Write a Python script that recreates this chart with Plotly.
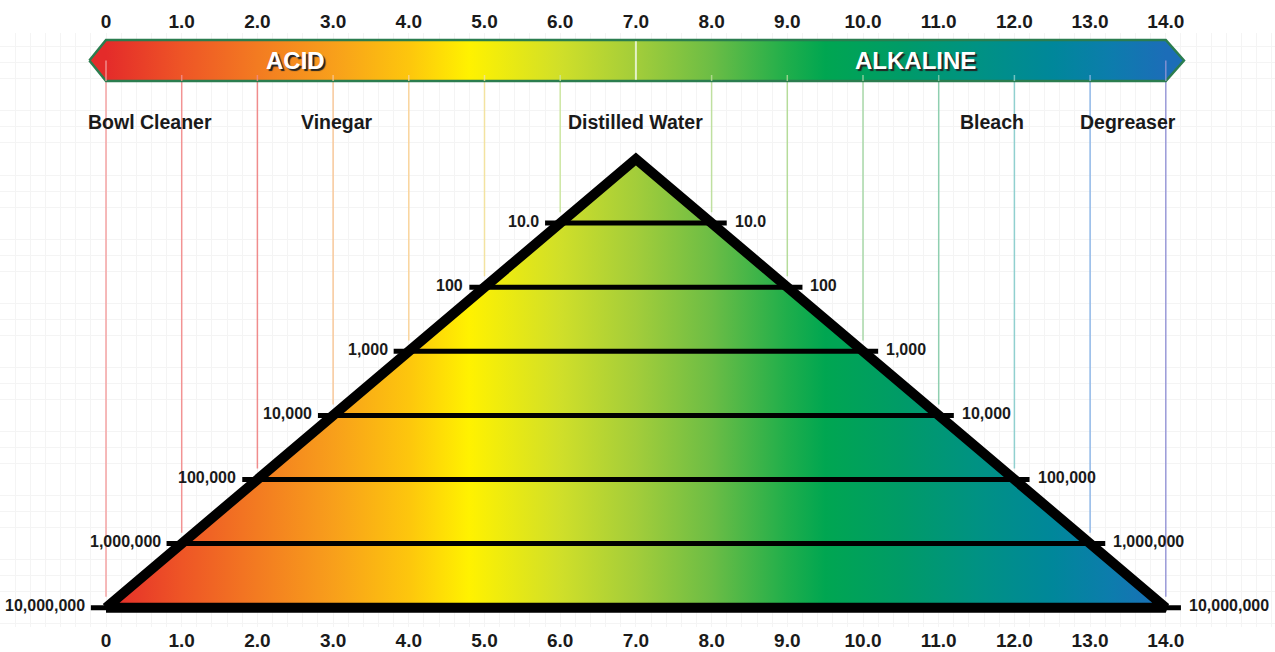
import plotly.graph_objects as go

# ---------------- data ----------------
ph_ticks = list(range(15))
ph_tick_labels = ["0", "1.0", "2.0", "3.0", "4.0", "5.0", "6.0", "7.0",
                  "8.0", "9.0", "10.0", "11.0", "12.0", "13.0", "14.0"]
levels = [1, 2, 3, 4, 5, 6, 7]                      # powers of ten away from neutral
level_labels = ["10.0", "100", "1,000", "10,000", "100,000", "1,000,000", "10,000,000"]
neutral_ph = 7.0
products = ["Bowl Cleaner", "Vinegar", "Distilled Water", "Bleach", "Degreaser"]
product_ph = [0.58, 3.05, 7.0, 11.7, 13.5]
zones = ["ACID", "ALKALINE"]
zone_ph = [2.5, 10.69]

# colour along the pH scale
grad_ph = [0, 1, 2, 3, 4, 4.8, 6, 7, 8, 9, 9.5, 10.5, 11.5, 12.5, 13.3, 14]
grad_col = ["#e42b2a", "#ee5526", "#f37b21", "#f89f1b", "#fdc60d", "#fff200",
            "#d0df29", "#a3cd3a", "#6cbd45", "#1fae4b", "#00a651", "#009b67",
            "#009283", "#00879a", "#0d7cad", "#1c6db8"]
guide_ph = [0, 1, 2, 3, 4, 5, 6, 8, 9, 10, 11, 12, 13, 14]
guide_col = ["#f5a3a3", "#f29393", "#f08c8c", "#f8c89a", "#f9d49c", "#f3e3a0",
             "#cde6a3", "#bfe0a0", "#b5dc9a", "#a8d8a8", "#8fcfb0", "#90d0cf",
             "#8fb8e8", "#9a9ad8"]

# ---------------- layout geometry ----------------
W, H = 1275, 652
PX0, PXU = 106.0, 75.7          # pixel of pH 0, pixels per pH
PY0, PYU = 159.0, 64.1          # pixel of apex level 0, pixels per level
M_T, M_B = 33, 25
x_range = [(0 - PX0) / PXU, (W - PX0) / PXU]
y_range = [(H - M_B - PY0) / PYU, (M_T - PY0) / PYU]

ban_top, ban_bot = (40 - PY0) / PYU, (81 - PY0) / PYU
ban_mid = (ban_top + ban_bot) / 2
label_y = (122 - PY0) / PYU
tick_ext = 0.2

cscale = [[(p - grad_ph[0]) / (grad_ph[-1] - grad_ph[0]), c] for p, c in zip(grad_ph, grad_col)]

fig = go.Figure()

# guide lines
for p, c in zip(guide_ph, guide_col):
    start = (76 - PY0) / PYU
    end = abs(neutral_ph - p) - 0.17
    fig.add_trace(go.Scatter(x=[p, p], y=[start, end], mode="lines",
                             line=dict(color=c, width=1.5), hoverinfo="skip",
                             showlegend=False))

# banner
bx = [-0.22, 0, 14, 14.24, 14, 0, -0.22]
by = [ban_mid, ban_top, ban_top, ban_mid, ban_bot, ban_bot, ban_mid]
fig.add_trace(go.Scatter(x=bx, y=by, mode="lines", fill="toself",
                         fillgradient=dict(type="horizontal", colorscale=cscale,
                                           start=grad_ph[0], stop=grad_ph[-1]),
                         line=dict(color="#2b7d4f", width=2.5), hoverinfo="skip",
                         showlegend=False))
fig.add_trace(go.Scatter(x=[neutral_ph, neutral_ph], y=[ban_top + 0.02, ban_bot - 0.02],
                         mode="lines", line=dict(color="rgba(235,245,215,0.9)", width=2),
                         hoverinfo="skip", showlegend=False))
# guide tips visible inside banner
for p, c in zip(guide_ph, guide_col):
    tip_top = ban_mid if p in (0, 14) else (75 - PY0) / PYU
    fig.add_trace(go.Scatter(x=[p, p], y=[tip_top, ban_bot], mode="lines",
                             line=dict(color=c, width=1.5), opacity=0.8,
                             hoverinfo="skip", showlegend=False))

# triangle
top = max(levels)
tx = [neutral_ph - top, neutral_ph, neutral_ph + top, neutral_ph - top]
ty = [top, 0, top, top]
fig.add_trace(go.Scatter(x=tx, y=ty, mode="lines", fill="toself",
                         fillgradient=dict(type="horizontal", colorscale=cscale,
                                           start=grad_ph[0], stop=grad_ph[-1]),
                         line=dict(color="black", width=10), hoverinfo="skip",
                         showlegend=False))

# level bars
lx, ly = [], []
for k in levels:
    lx += [neutral_ph - k - tick_ext, neutral_ph + k + tick_ext, None]
    ly += [k, k, None]
fig.add_trace(go.Scatter(x=lx, y=ly, mode="lines", line=dict(color="black", width=5),
                         hoverinfo="skip", showlegend=False))

# invisible trace for top axis
fig.add_trace(go.Scatter(x=[0, 14], y=[0, 0], xaxis="x2", mode="markers",
                         marker=dict(opacity=0), hoverinfo="skip", showlegend=False))

ann = []
lvl_font = dict(family="Liberation Sans", size=16, color="#1a1a1a", weight="bold")
for k, t in zip(levels, level_labels):
    ann.append(dict(x=neutral_ph - k - tick_ext, y=k, text=t, showarrow=False,
                    xanchor="right", yanchor="middle", xshift=-4, yshift=2, font=lvl_font))
    ann.append(dict(x=neutral_ph + k + tick_ext, y=k, text=t, showarrow=False,
                    xanchor="left", yanchor="middle", xshift=6, yshift=2, font=lvl_font))
for t, p in zip(products, product_ph):
    ann.append(dict(x=p, y=label_y, text=t, showarrow=False, xanchor="center",
                    yanchor="middle",
                    font=dict(family="Liberation Sans", size=19.5, color="#1a1a1a", weight="bold")))
for t, p in zip(zones, zone_ph):
    ann.append(dict(x=p, y=ban_mid, text=t, showarrow=False, xanchor="center",
                    yanchor="middle",
                    font=dict(family="Liberation Sans", size=24, color="white", weight="bold",
                              shadow="2px 2px 1px #222")))

tickfont = dict(family="Liberation Sans", size=19, color="#1a1a1a", weight="bold")
minor = dict(showgrid=True, gridcolor="#f4f4f4", gridwidth=1)
fig.update_layout(
    width=W, height=H, margin=dict(l=0, r=0, t=M_T, b=M_B),
    paper_bgcolor="white", plot_bgcolor="white", showlegend=False,
    xaxis=dict(range=x_range, tickmode="array", tickvals=ph_ticks, ticktext=ph_tick_labels,
               showgrid=False, zeroline=False, showline=False, ticks="", tickfont=tickfont,
               minor=dict(dtick=0.2, tick0=0, **minor), fixedrange=True),
    xaxis2=dict(range=x_range, overlaying="x", side="top", matches="x", tickmode="array",
                tickvals=ph_ticks, ticktext=ph_tick_labels, showgrid=False, zeroline=False,
                showline=False, ticks="", tickfont=tickfont),
    yaxis=dict(range=y_range, showticklabels=False, showgrid=False, zeroline=False,
               showline=False, ticks="", minor=dict(dtick=0.25, tick0=0, **minor),
               fixedrange=True),
    annotations=ann,
)
fig.write_html("out.html", config={"displayModeBar": False},
               post_script="document.body.style.margin='0px';document.body.style.overflow='hidden';")
